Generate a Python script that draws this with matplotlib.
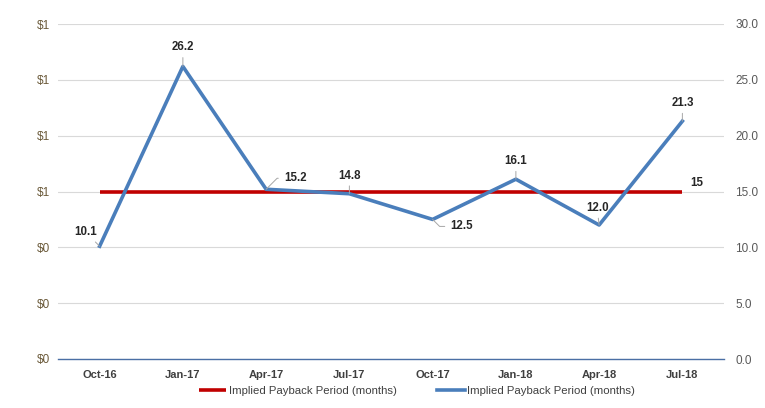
import numpy as np
import matplotlib.pyplot as plt

plt.rcParams['font.family'] = ['Liberation Sans', 'DejaVu Sans']

quarters = ["Oct-16", "Jan-17", "Apr-17", "Jul-17", "Oct-17", "Jan-18", "Apr-18", "Jul-18"]
payback = [10.1, 26.2, 15.2, 14.8, 12.5, 16.1, 12.0, 21.3]
target = [15] * len(quarters)
left_labels = ["$0", "$0", "$0", "$1", "$1", "$1", "$1"]
right_ticks = [0, 5, 10, 15, 20, 25, 30]

# label offsets (pixels) from each point, plus leader line style
offsets = [(-14, 14), (0, 19), (29, 11), (0, 18), (29, -7), (0, 18), (-2, 17), (0, 18)]
leaders = [None, None, ("angle,angleA=0,angleB=45", (0, 0.5)), None,
           ("angle,angleA=0,angleB=-45", (0, 0.5)), None, None, None]

fig = plt.figure(figsize=(7.65, 4.08), dpi=100)
ax = fig.add_axes([58 / 765, 1 - 359 / 408, 666 / 765, 335 / 408])
x = np.arange(len(quarters))

ax.plot(x, target, color="#C00000", lw=2.6, solid_capstyle="butt", zorder=3,
        label="Implied Payback Period (months)")
ax.plot(x, payback, color="#4A7EBB", lw=2.6, zorder=4,
        label="Implied Payback Period (months)")

for xi, v, off, ld in zip(x, payback, offsets, leaders):
    props = dict(arrowstyle="-", color="#a6a6a6", lw=0.7, shrinkA=1, shrinkB=0)
    if ld is not None:
        props["connectionstyle"] = ld[0]
        props["relpos"] = ld[1]
        props["shrinkA"] = 2
    ax.annotate(f"{v:.1f}", (xi, v), xytext=off, textcoords="offset pixels",
                ha="center", va="center", fontsize=8.3, fontweight="bold", color="#262626",
                zorder=6, arrowprops=props)
ax.annotate(f"{target[-1]}", (x[-1], target[-1]), xytext=(14, 9), textcoords="offset pixels",
            ha="center", va="center", fontsize=8.3, fontweight="bold", color="#262626")

ax.set_xlim(-0.5, len(quarters) - 0.5)
ax.set_ylim(0, 30)
ax.set_xticks(x)
ax.set_xticklabels(quarters, fontsize=8, fontweight="bold", color="#404040")
ax.set_yticks(right_ticks)
ax.set_yticklabels(left_labels, fontsize=8.5, color="#6b5a3a")
ax.tick_params(axis="both", length=0, pad=8)
ax.tick_params(axis="y", pad=6)
ax.grid(axis="y", color="#d9d9d9", lw=0.8)
ax.set_axisbelow(True)
for s in ["top", "left", "right"]:
    ax.spines[s].set_visible(False)
ax.spines["bottom"].set_color("#4A6FA5")
ax.spines["bottom"].set_linewidth(1.0)

ax2 = ax.twinx()
ax2.set_ylim(0, 30)
ax2.set_yticks(right_ticks)
ax2.set_yticklabels([f"{t:.1f}" for t in right_ticks], fontsize=8.5, color="#595959")
ax2.tick_params(axis="y", length=0, pad=8)
for s in ax2.spines.values():
    s.set_visible(False)

leg = fig.legend(*ax.get_legend_handles_labels(), loc="center",
                 bbox_to_anchor=(417 / 765, 1 - 391 / 408), ncol=2, frameon=False,
                 fontsize=8.2, handlelength=2.4, handletextpad=0.2, columnspacing=3.6)
for t in leg.get_texts():
    t.set_color("#404040")

fig.savefig("out.png", dpi=100)
